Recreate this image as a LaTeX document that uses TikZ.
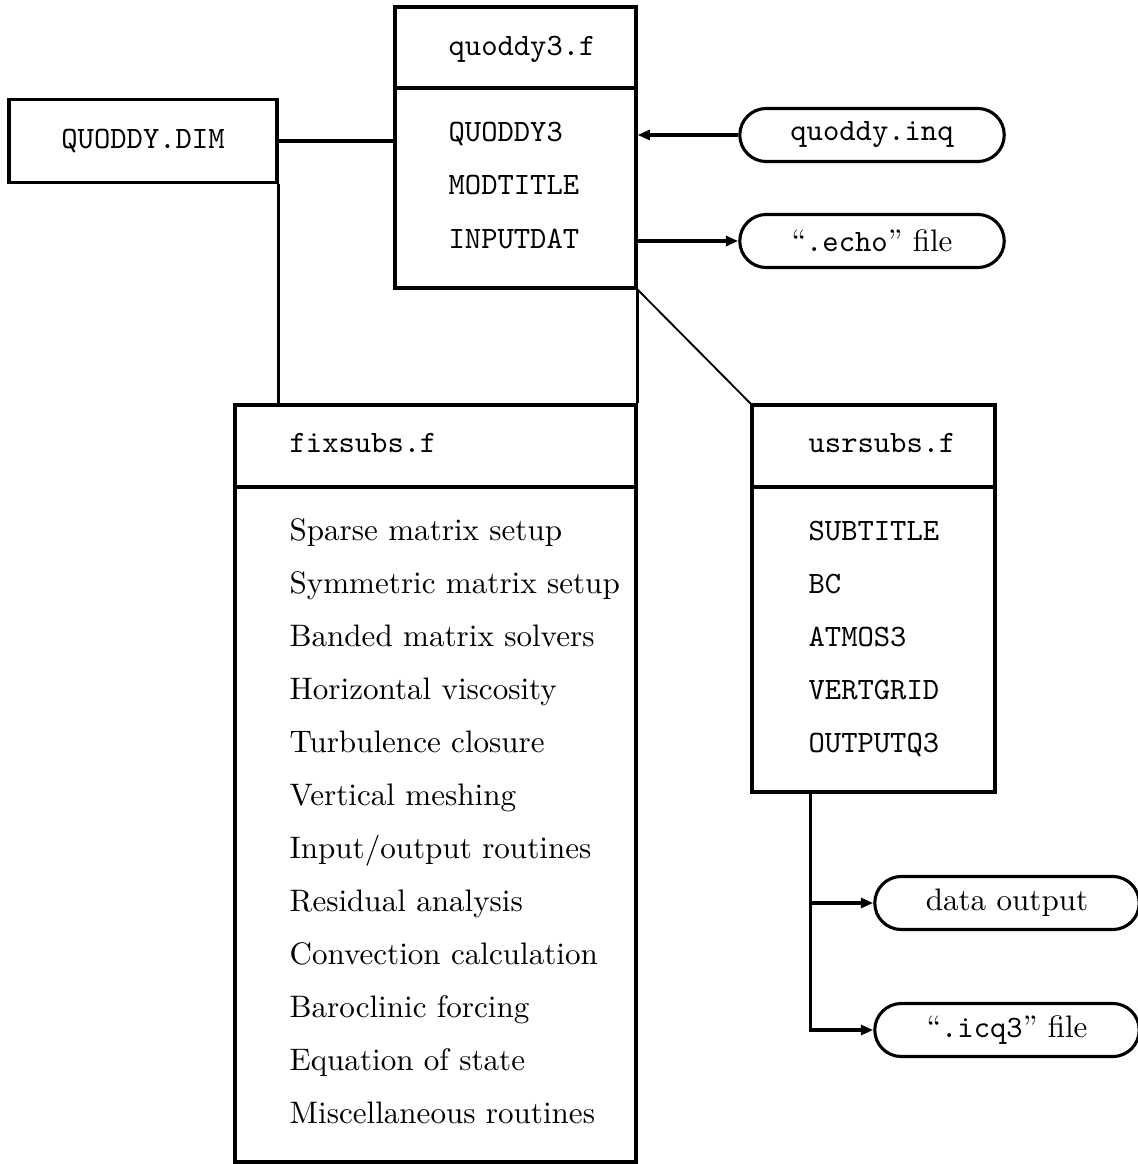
\documentclass[tikz,border=0pt]{standalone}
\usepackage{tikz}
\usetikzlibrary{arrows.meta, positioning, fit, shapes.misc}

\begin{document}
\begin{tikzpicture}[x=0.0113cm, y=-0.0113cm,
    box/.style={draw, line width=1pt, inner sep=0pt},
    pill/.style={rounded rectangle, draw, line width=1pt, minimum width=2.99cm, minimum height=0.6cm, inner sep=0pt},
    item/.style={anchor=base west, inner sep=0pt},
    wire/.style={line width=1pt},
    arrow/.style={-{Triangle[length=4pt,width=3.2pt]}, line width=1pt}
  ]
  \useasboundingbox (0,0) rectangle (1137,1164);

  % program files
  \node[box, fit={(395,7) (636,288)}] (quoddy) {};
  \node[box, fit={(235,405) (636,1162)}] (fixsubs) {};
  \node[box, fit={(752,405) (995,792)}] (usrsubs) {};
  \node[box, minimum width=3.03cm, minimum height=0.93cm, font=\ttfamily] (dim) at (143,141) {QUODDY.DIM};

  \foreach \b/\y in {quoddy/88, fixsubs/487, usrsubs/487}
    \draw[wire] (\b.west |- 0,\y) -- (\b.east |- 0,\y);

  \node[item, font=\ttfamily] (qtitle) at (448,56) {quoddy3.f};
  \node[item, font=\ttfamily] (ftitle) at (289,452) {fixsubs.f};
  \node[item, font=\ttfamily] (utitle) at (808,452) {usrsubs.f};

  \foreach \t [count=\i from 0] in {QUODDY3, MODTITLE, INPUTDAT}
    \node[item, font=\ttfamily] (q\i) at (448,{142+53*\i}) {\t};
  \foreach \t [count=\i from 0] in {Sparse matrix setup, Symmetric matrix setup, Banded matrix solvers,
      Horizontal viscosity, Turbulence closure, Vertical meshing, Input/output routines,
      Residual analysis, Convection calculation, Baroclinic forcing, Equation of state,
      Miscellaneous routines}
    \node[item] (f\i) at (289,{540+53*\i}) {\t};
  \foreach \t [count=\i from 0] in {SUBTITLE, BC, ATMOS3, VERTGRID, OUTPUTQ3}
    \node[item, font=\ttfamily] (u\i) at (808,{540+53*\i}) {\t};

  % input and output files
  \node[pill, font=\ttfamily] (inq) at (872,135) {quoddy.inq};
  \node[pill] (echo) at (872,241) {``\texttt{.echo}'' file};
  \node[pill] (dataout) at (1007,903) {data output};
  \node[pill] (icq) at (1007,1030) {``\texttt{.icq3}'' file};

  \draw[wire] (dim.east) -- (dim.east -| quoddy.west);
  \draw[wire] (dim.south east) -- (dim.south east |- fixsubs.north);
  \draw[wire] (quoddy.south east) -- (fixsubs.north east);
  \draw[line width=0.6pt] (quoddy.south east) -- (usrsubs.north west);
  \draw[arrow] (inq.west) -- (inq.west -| quoddy.east);
  \draw[arrow] (quoddy.east |- echo.west) -- (echo.west);
  \coordinate (tap) at ([xshift=0.68cm]usrsubs.south west);
  \draw[arrow] (tap) |- (icq.west);
  \draw[arrow] (tap |- dataout.west) -- (dataout.west);
\end{tikzpicture}
\end{document}
